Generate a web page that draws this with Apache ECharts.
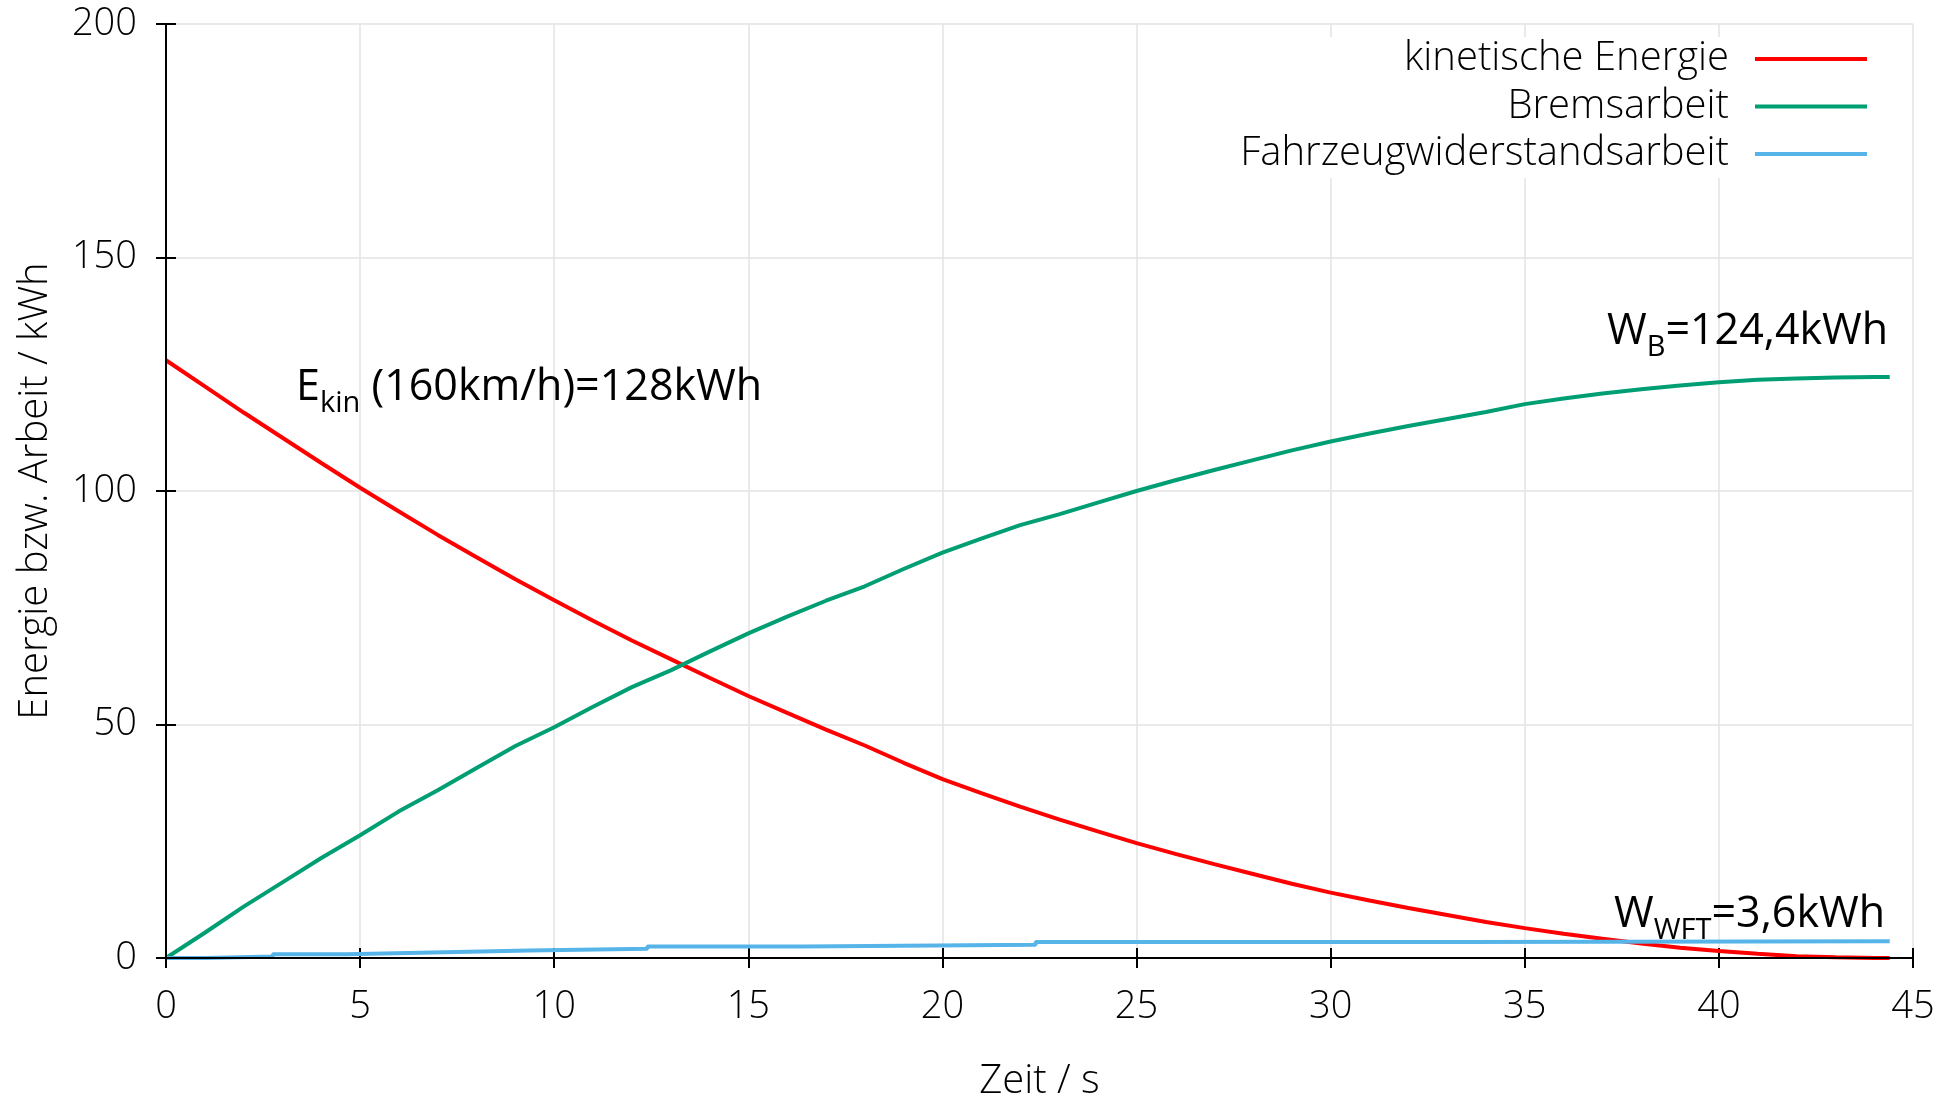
<!DOCTYPE html>
<html>
<head>
<meta charset="utf-8">
<script src="https://cdn.jsdelivr.net/npm/echarts@6/dist/echarts.min.js"></script>
<style>
html,body{margin:0;padding:0;background:#fff;}
#c{width:1956px;height:1098px;}
</style>
</head>
<body>
<div id="c"></div>
<script>
// ---- data ----
const timeS = [0,1,2,3,4,5,6,7,8,9,10,11,12,13,14,15,16,17,18,19,20,21,22,23,24,25,26,27,28,29,30,31,32,33,34,35,36,37,38,39,40,41,42,43,44,44.4];
const kinEnergy = [128,122.4,116.8,111.4,106.0,100.7,95.6,90.6,85.8,81.1,76.6,72.2,68.0,64.0,60.0,56.1,52.5,48.9,45.5,41.8,38.3,35.3,32.4,29.7,27.1,24.6,22.3,20.1,18.0,15.9,14.0,12.3,10.7,9.2,7.7,6.4,5.2,4.1,3.1,2.2,1.5,0.9,0.4,0.15,0.02,0];
const brakeWork = [0,5.4,11.0,16.2,21.4,26.3,31.4,35.9,40.7,45.4,49.4,53.8,58.0,61.6,65.6,69.5,73.1,76.5,79.6,83.3,86.8,89.8,92.7,95.0,97.5,100.0,102.3,104.5,106.6,108.7,110.6,112.3,113.9,115.4,116.9,118.6,119.8,120.9,121.8,122.6,123.3,123.8,124.1,124.3,124.4,124.4];
const resistTimes = [0,1.03,2.75,4.64,6.85,9.35,12.4,16.4,22.4,33.5,44.4];
const resistWork = [0,0.3,0.8,1.2,1.6,2.0,2.45,2.85,3.4,3.6,3.6];
const seriesNames = ['kinetische Energie','Bremsarbeit','Fahrzeugwiderstandsarbeit'];
const xTicks = {min:0, max:45, interval:5};
const yTicks = {min:0, max:200, interval:50};
// annotation anchors (data coordinates)
const annEkin = [3.35, 122.2];
const annWB = [44.36, 134.2];
const annWWFT = [44.28, 9.2];

const pairs = (xs, ys) => xs.map((x,i)=>[x, ys[i]]);

const FONT = 'Open Sans';
const tickTxt = {fontFamily: FONT, fontSize: 38, fontWeight: 300, color: '#000'};
const txt = {fontFamily: FONT, fontSize: 40, fontWeight: 300, color: '#000'};

const chart = echarts.init(document.getElementById('c'), null, {renderer:'canvas'});

const axisLine = {show:true, lineStyle:{color:'#000', width:2}};
const axisTick = {show:true, inside:true, length:10, lineStyle:{color:'#000', width:2}};
const splitLine = {show:true, lineStyle:{color:'#e3e3e3', width:1.5}};

const option = {
  backgroundColor:'#fff',
  animation:false,
  grid:{left:166, right:43, top:24, bottom:140, outerBoundsMode:'none', containLabel:false},
  xAxis:[
    {type:'value', min:xTicks.min, max:xTicks.max, interval:xTicks.interval, position:'bottom',
     axisLine, axisTick, splitLine,
     axisLabel:Object.assign({margin:30}, tickTxt),
     name:'Zeit / s', nameLocation:'middle', nameGap:104, nameTextStyle:txt},
    {type:'value', min:xTicks.min, max:xTicks.max, interval:xTicks.interval, position:'top',
     axisLine, axisTick, splitLine:{show:false}, axisLabel:{show:false}, z:10}
  ],
  yAxis:[
    {type:'value', min:yTicks.min, max:yTicks.max, interval:yTicks.interval, position:'left',
     axisLine, axisTick, splitLine,
     axisLabel:Object.assign({margin:29}, tickTxt),
     name:'Energie bzw. Arbeit / kWh', nameLocation:'middle', nameGap:110, nameTextStyle:txt},
    {type:'value', min:yTicks.min, max:yTicks.max, interval:yTicks.interval, position:'right',
     axisLine, axisTick, splitLine:{show:false}, axisLabel:{show:false}, z:10}
  ],
  legend:{
    orient:'vertical', align:'right', right:49, top:37,
    icon:'rect', itemWidth:112, itemHeight:4, itemGap:7.5,
    padding:[2,40,4,16],
    backgroundColor:'#fff',
    textStyle:Object.assign({lineHeight:40, padding:[0,21,0,0]}, txt),
    data:seriesNames
  },
  series:[
    {name:seriesNames[0], type:'line', data:pairs(timeS, kinEnergy), showSymbol:false, symbol:'none',
     lineStyle:{color:'#ff0000', width:4}, itemStyle:{color:'#ff0000'}, z:3},
    {name:seriesNames[1], type:'line', data:pairs(timeS, brakeWork), showSymbol:false, symbol:'none',
     lineStyle:{color:'#009e73', width:4}, itemStyle:{color:'#009e73'}, z:3},
    {name:seriesNames[2], type:'line', step:'end', data:pairs(resistTimes, resistWork), showSymbol:false, symbol:'none',
     lineStyle:{color:'#56b4e9', width:4}, itemStyle:{color:'#56b4e9'}, z:4}
  ]
};
chart.setOption(option);

const ANN = '#0a3562';
const rich = {
  m:{fontFamily:'Open Sans', fontSize:43, color:ANN, lineHeight:50},
  s:{fontFamily:'Open Sans', fontSize:29, color:ANN, lineHeight:29, padding:[32,0,0,0]}
};
function ann(coord, text, align){
  const p = chart.convertToPixel({xAxisIndex:0, yAxisIndex:0}, coord);
  return {type:'text', x:p[0], y:p[1], z:20,
    style:{text:text, rich:rich, align:align, verticalAlign:'middle'}};
}
chart.setOption({graphic:[
  ann(annEkin, '{m|E}{s|kin}{m| (160km/h)=128kWh}', 'left'),
  ann(annWB, '{m|W}{s|B}{m|=124,4kWh}', 'right'),
  ann(annWWFT, '{m|W}{s|WFT}{m|=3,6kWh}', 'right')
]});
</script>
</body>
</html>
